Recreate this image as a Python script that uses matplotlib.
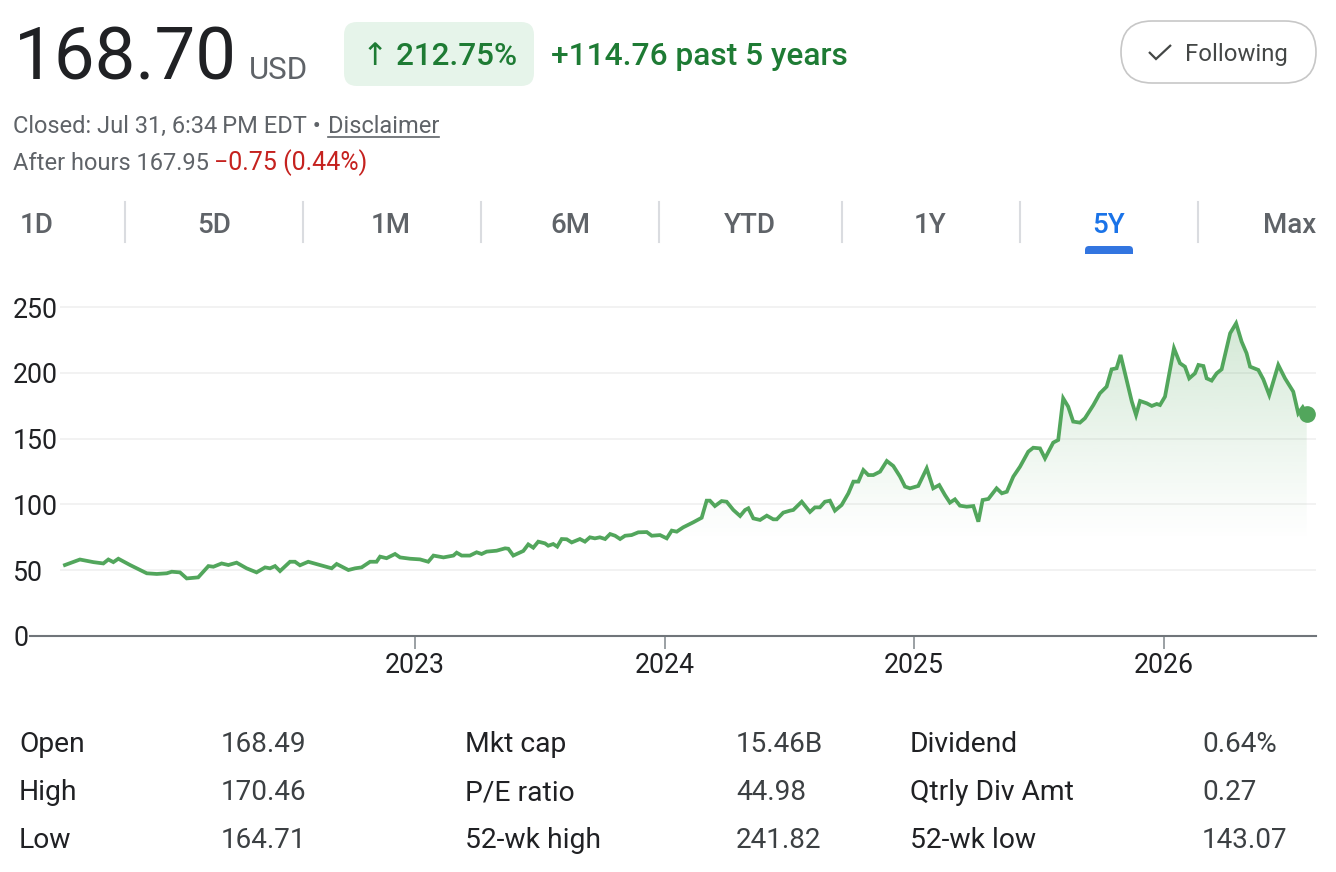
import matplotlib
matplotlib.use('Agg')
import matplotlib.pyplot as plt
import numpy as np
from matplotlib.patches import FancyBboxPatch, Polygon
from matplotlib.lines import Line2D
from matplotlib.colors import to_rgb

plt.rcParams['font.family'] = ['Roboto', 'DejaVu Sans']

# ---------------- data ----------------
years = [
    2021.597, 2021.657, 2021.711, 2021.751, 2021.771, 2021.791, 2021.811, 2021.858,
    2021.925, 2021.965, 2022.005, 2022.025, 2022.058, 2022.085, 2022.131, 2022.172,
    2022.192, 2022.225, 2022.252, 2022.285, 2022.325, 2022.365, 2022.399, 2022.419,
    2022.439, 2022.459, 2022.499, 2022.519, 2022.539, 2022.572, 2022.619, 2022.666,
    2022.686, 2022.733, 2022.760, 2022.786, 2022.820, 2022.846, 2022.860, 2022.886,
    2022.920, 2022.940, 2022.980, 2023.020, 2023.053, 2023.074, 2023.114, 2023.154,
    2023.167, 2023.187, 2023.220, 2023.247, 2023.267,
    2023.287, 2023.327, 2023.361, 2023.374, 2023.394, 2023.434, 2023.454, 2023.474,
    2023.494, 2023.521, 2023.534, 2023.554, 2023.570, 2023.588, 2023.608, 2023.628,
    2023.661, 2023.681, 2023.701, 2023.721, 2023.741, 2023.762, 2023.782, 2023.802,
    2023.822, 2023.842, 2023.868, 2023.895, 2023.929, 2023.949, 2023.982, 2024.009,
    2024.029, 2024.049, 2024.075, 2024.115, 2024.149, 2024.169, 2024.182, 2024.202,
    2024.229, 2024.249, 2024.276, 2024.303, 2024.323, 2024.336, 2024.356, 2024.383,
    2024.410, 2024.436, 2024.450, 2024.476, 2024.503, 2024.516, 2024.550, 2024.583,
    2024.603, 2024.623, 2024.643, 2024.663, 2024.683, 2024.710, 2024.737, 2024.757,
    2024.777, 2024.797, 2024.817, 2024.837, 2024.864, 2024.891, 2024.917, 2024.944,
    2024.964, 2024.984, 2025.017, 2025.051,
    2025.077, 2025.101, 2025.124, 2025.144, 2025.164, 2025.184, 2025.211, 2025.238,
    2025.258, 2025.275, 2025.298, 2025.331, 2025.352, 2025.372, 2025.398, 2025.425,
    2025.458, 2025.478, 2025.505, 2025.525, 2025.558, 2025.578, 2025.598, 2025.618,
    2025.638, 2025.665, 2025.685, 2025.719, 2025.745, 2025.772, 2025.792, 2025.812,
    2025.828, 2025.852, 2025.873, 2025.890, 2025.906, 2025.933, 2025.953, 2025.973,
    2025.986, 2026.006, 2026.026, 2026.042, 2026.066, 2026.086, 2026.103, 2026.126,
    2026.140, 2026.160, 2026.173, 2026.193, 2026.213, 2026.233, 2026.267, 2026.291,
    2026.313, 2026.333, 2026.347, 2026.380, 2026.400, 2026.424, 2026.460, 2026.487,
    2026.520, 2026.540, 2026.558, 2026.574,
]
prices = [
    53.8, 58.0, 56.0, 55.0, 58.0, 56.0, 58.6, 53.8,
    47.5, 47.0, 47.5, 48.7, 48.2, 43.6, 44.4, 53.0,
    52.5, 55.0, 53.8, 55.6, 51.3, 48.2, 52.0, 51.3,
    53.0, 49.2, 56.3, 56.3, 53.6, 56.3, 53.8, 51.3,
    54.6, 50.0, 51.3, 52.0, 56.3, 56.3, 60.2, 59.0,
    62.2, 59.6, 58.6, 58.1, 56.3, 61.0, 59.6, 61.0,
    63.2, 61.0, 61.0, 63.5, 62.2,
    64.0, 64.7, 66.5, 66.2, 61.0, 64.5, 69.5, 67.0,
    71.6, 70.3, 68.5, 69.8, 67.8, 73.6, 73.4, 71.0,
    73.6, 71.6, 74.9, 74.1, 74.9, 73.6, 77.4, 76.1,
    73.6, 76.1, 76.6, 78.7, 78.9, 76.1, 76.6, 74.1,
    80.0, 79.2, 82.5, 86.3, 89.8, 102.8, 102.8, 98.7,
    102.5, 102.0, 95.7, 91.1, 95.7, 97.0, 89.3, 88.1,
    91.4, 88.6, 88.6, 93.7, 95.2, 95.7, 102.0, 94.2,
    97.7, 97.7, 102.0, 102.8, 95.2, 99.5, 108.4, 117.3,
    117.3, 126.1, 122.3, 122.3, 124.9, 133.0, 129.2, 121.1,
    113.5, 112.2, 114.0, 127.4,
    112.2, 114.7, 107.1, 101.3, 103.8, 99.0, 98.2, 98.7,
    86.8, 103.3, 104.1, 112.2, 108.4, 109.6, 121.1, 128.7,
    140.1, 143.1, 142.6, 135.0, 147.0, 149.0, 180.7, 174.4,
    163.0, 162.2, 165.5, 175.6, 184.5, 189.6, 202.8, 203.6,
    213.7, 194.7, 178.2, 168.0, 178.7, 176.9, 174.9, 176.4,
    175.6, 182.0, 202.3, 218.8, 207.4, 204.8, 195.9, 199.7,
    206.1, 205.3, 195.9, 194.2, 199.7, 202.8, 230.2, 237.8,
    223.9, 215.0, 204.8, 202.3, 195.2, 183.2, 206.1, 195.9,
    185.8, 169.3, 173.9, 168.7,
]
y_ticks = [0, 50, 100, 150, 200, 250]
x_ticks = [2023, 2024, 2025, 2026]
x_tick_labels = ['2023', '2024', '2025', '2026']

price_text = '168.70'
currency = 'USD'
change_pct = '\u2191 212.75%'
change_abs = '+114.76 past 5 years'
closed_text = 'Closed: Jul 31, 6:34\u2009PM EDT \u2022 '
disclaimer = 'Disclaimer'
after_hours = 'After hours 167.95 '
after_change = '\u22120.75 (0.44%)'
tabs = ['1D', '5D', '1M', '6M', 'YTD', '1Y', '5Y', 'Max']
active_tab = '5Y'
stat_labels = [['Open', 'High', 'Low'],
               ['Mkt cap', 'P/E ratio', '52-wk high'],
               ['Dividend', 'Qtrly Div Amt', '52-wk low']]
stat_values = [['168.49', '170.46', '164.71'],
               ['15.46B', '44.98', '241.82'],
               ['0.64%', '0.27', '143.07']]

# ---------------- figure ----------------
W, H = 1336, 872
fig = plt.figure(figsize=(W / 100, H / 100), dpi=100)
fig.patch.set_facecolor('white')

# overlay axes in pixel coordinates for header / footer UI
ov = fig.add_axes([0, 0, 1, 1])
ov.set_xlim(0, W)
ov.set_ylim(H, 0)
ov.axis('off')
ov.patch.set_alpha(0)

GREEN_TXT = '#1e7b34'
GRAY = '#5f6368'
DARK = '#202124'

ov.text(14, 80, price_text, fontsize=52.2, color=DARK, va='baseline', ha='left')
ov.text(249, 79, currency, fontsize=22.5, color=GRAY, va='baseline', ha='left')

pill = FancyBboxPatch((344, 22), 190, 64, boxstyle='round,pad=0,rounding_size=13',
                      facecolor='#e6f4ea', edgecolor='none')
ov.add_patch(pill)
ov.text(440, 65, change_pct, fontsize=22.6, color=GREEN_TXT, va='baseline', ha='center',
        fontweight='medium')
ov.text(551, 65, change_abs, fontsize=22.8, color=GREEN_TXT, va='baseline', ha='left',
        fontweight='medium')

btn = FancyBboxPatch((1121, 21), 195, 62, boxstyle='round,pad=0,rounding_size=31',
                     facecolor='white', edgecolor='#c7c7c7', linewidth=1.2)
ov.add_patch(btn)
ov.add_line(Line2D([1149, 1156, 1171], [52, 59, 45], color='#444746', lw=1.6,
                   solid_capstyle='butt', solid_joinstyle='miter'))
ov.text(1185, 61, 'Following', fontsize=17.2, color='#444746', va='baseline', ha='left')

t1 = ov.text(13, 133, closed_text, fontsize=17, color=GRAY, va='baseline', ha='left')
t2 = ov.text(328, 133, disclaimer, fontsize=17, color=GRAY, va='baseline', ha='left')
ov.text(13, 170, after_hours, fontsize=17, color=GRAY, va='baseline', ha='left')
ov.text(214, 170, after_change, fontsize=18, color='#c5221f', va='baseline', ha='left')

tab_x = [20, 214, 391, 570, 750, 930, 1109, 1316]
tab_ha = ['left'] + ['center'] * 6 + ['right']
for lab, x, ha in zip(tabs, tab_x, tab_ha):
    col = '#1a73e8' if lab == active_tab else '#5f6368'
    ov.text(x, 233, lab, fontsize=20, color=col, va='baseline', ha=ha, fontweight='medium')
for sx in [125, 303, 481, 659, 842, 1020, 1198]:
    ov.add_line(Line2D([sx, sx], [202, 242], color='#dadce0', lw=1.5))
ul = FancyBboxPatch((1085, 246), 48, 10, boxstyle='round,pad=0,rounding_size=4',
                    facecolor='#3275e0', edgecolor='none')
ov.add_patch(ul)
ov.add_patch(FancyBboxPatch((1085, 251), 48, 4, boxstyle='square,pad=0',
                            facecolor='#3275e0', edgecolor='none'))
ov.add_patch(FancyBboxPatch((1080, 254), 58, 6, boxstyle='square,pad=0',
                            facecolor='white', edgecolor='none'))

col_lab_x = [19, 465, 910]
col_val_x = [221, 736, 1202]
row_y = [752, 800, 848]
for c in range(3):
    for r in range(3):
        ov.text(col_lab_x[c], row_y[r], stat_labels[c][r], fontsize=20.3, color=DARK,
                va='baseline', ha='left')
        ov.text(col_val_x[c], row_y[r], stat_values[c][r], fontsize=20.1, color='#3c4043',
                va='baseline', ha='left')

# ---------------- chart ----------------
px_per_unit = 1.3136
y0_px, ytop_px = 635.7, 300
left_px, right_px = 30, 1316
ax = fig.add_axes([left_px / W, 1 - y0_px / H, (right_px - left_px) / W, (y0_px - ytop_px) / H])
ymax = (y0_px - ytop_px) / px_per_unit
xmin = 2023 + (left_px - 415) / 249.5
xmax = 2023 + (right_px - 415) / 249.5
ax.patch.set_alpha(0)

LINE = '#52a65c'
t = np.array(years)
p = np.array(prices)

# gradient fill under the line
verts = np.column_stack([np.r_[t, t[-1], t[0]], np.r_[p, 0, 0]])
clip = Polygon(verts, closed=True, facecolor='none', edgecolor='none')
ax.add_patch(clip)
vals = np.linspace(0, ymax, 300)
alpha = np.clip((vals - 72) / 165, 0, 1) ** 1.1 * 0.25
rgba = np.zeros((300, 1, 4))
rgba[..., :3] = to_rgb(LINE)
rgba[..., 3] = alpha[:, None]
im = ax.imshow(rgba, extent=[t[0], t[-1], 0, ymax], origin='lower', aspect='auto',
               zorder=1, interpolation='bilinear')
im.set_clip_path(clip)

ax.plot(t, p, color=LINE, lw=2.7, zorder=3, solid_joinstyle='miter')
ax.plot([t[-1]], [p[-1]], 'o', color=LINE, ms=11, zorder=4, clip_on=False)

ax.hlines(y_ticks[1:], (60 - left_px) / (right_px - left_px), 1,
          transform=ax.get_yaxis_transform(), color='#f1f1f1', lw=1.3, zorder=0)

ax.set_xlim(xmin, xmax)
ax.set_ylim(0, ymax)
for s in ['top', 'right', 'left']:
    ax.spines[s].set_visible(False)
ax.spines['bottom'].set_color('#70757a')
ax.spines['bottom'].set_linewidth(1.5)
ax.set_yticks(y_ticks)
ax.set_yticklabels([str(v) for v in y_ticks])
ax.set_xticks(x_ticks)
ax.set_xticklabels(x_tick_labels)
ax.tick_params(axis='y', length=0, pad=12.2, labelsize=19.2, labelcolor=DARK)
for lab in ax.get_yticklabels():
    lab.set_horizontalalignment('left')
ax.tick_params(axis='x', length=9.5, width=1.1, color='#80868b', pad=2,
               labelsize=19.2, labelcolor=DARK)

# underline for Disclaimer
fig.canvas.draw()
bb = t2.get_window_extent()
inv = ov.transData.inverted()
(x0d, _), (x1d, _) = inv.transform([[bb.x0, bb.y0], [bb.x1, bb.y0]])
ov.add_line(Line2D([x0d, x1d], [137, 137], color=GRAY, lw=1.2))

fig.savefig('out.png', dpi=100)
